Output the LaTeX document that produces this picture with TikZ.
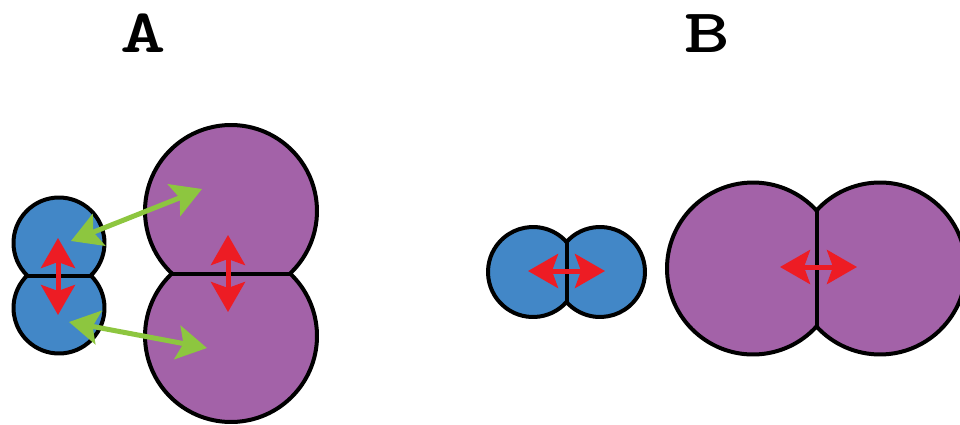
\documentclass[tikz,border=0pt]{standalone}
\usetikzlibrary{arrows.meta}
\definecolor{cellblue}{HTML}{4287C7}
\definecolor{cellpurple}{HTML}{A362A8}
\definecolor{arrred}{HTML}{ED1C24}
\definecolor{arrgreen}{HTML}{8DC63F}
\newcommand\cellpairV[5]{%
  \pgfmathsetmacro\hh{(#3-#2)/2}%
  \pgfmathsetmacro\th{asin(\hh/#4)}%
  \pgfmathsetmacro\hc{#4*cos(\th)}%
  \pgfmathsetmacro\ym{(#2+#3)/2}%
  \draw[#5] (#1-\hc,\ym) arc[start angle=180-\th, end angle=360+\th, radius=#4]
    arc[start angle=-\th, end angle=180+\th, radius=#4] -- cycle;
  \draw[cellline] (#1-\hc,\ym) -- (#1+\hc,\ym);
}
\newcommand\cellpairH[5]{%
  \pgfmathsetmacro\hh{(#2-#1)/2}%
  \pgfmathsetmacro\th{acos(\hh/#4)}%
  \pgfmathsetmacro\hc{#4*sin(\th)}%
  \pgfmathsetmacro\xm{(#1+#2)/2}%
  \draw[#5] (\xm,#3+\hc) arc[start angle=\th, end angle=360-\th, radius=#4]
    arc[start angle=180+\th, end angle=540-\th, radius=#4] -- cycle;
  \draw[cellline] (\xm,#3-\hc) -- (\xm,#3+\hc);
}
\newcommand\widelbl[1]{\scalebox{1.4}[1]{#1}}
\begin{document}
\begin{tikzpicture}[x=1pt,y=-1pt,
  cellline/.style={line width=4pt, line join=round},
  bluecell/.style={cellline, fill=cellblue},
  purplecell/.style={cellline, fill=cellpurple},
  dbl/.style={line width=5pt, {Stealth[length=30pt,width=34pt,inset=6pt]}-{Stealth[length=30pt,width=34pt,inset=6pt]}},
  redarrow/.style={dbl, draw=arrred},
  greenarrow/.style={dbl, draw=arrgreen},
  lbl/.style={font=\fontsize{62}{62}\selectfont\ttfamily\bfseries, inner sep=0pt}]
\path[use as bounding box] (0,0) rectangle (960,425);
\clip (0,0) rectangle (960,425);

% labels
\node[lbl] (labelA) at (143,33.5) {\widelbl{A}};
\node[lbl] (labelB) at (707,33.5) {\widelbl{B}};

% A: vertical pairs
\cellpairV{59}{243}{308}{45.5}{bluecell}
\cellpairV{231}{211}{336}{86}{purplecell}

% B: horizontal pairs
\cellpairH{533}{600}{272}{45}{bluecell}
\cellpairH{753}{880}{268.5}{86}{purplecell}

% arrow end points
\coordinate (abt) at (58,238);
\coordinate (abb) at (58,315);
\coordinate (apt) at (228,235);
\coordinate (apb) at (228,312);
\coordinate (g1a) at (71,241);
\coordinate (g1b) at (202,189);
\coordinate (g2a) at (69,322);
\coordinate (g2b) at (207,348);
\coordinate (bbl) at (528,271);
\coordinate (bbr) at (605,271);
\coordinate (bpl) at (780,267);
\coordinate (bpr) at (857,267);

% arrows
\draw[greenarrow] (g1a) -- (g1b);
\draw[greenarrow] (g2a) -- (g2b);
\draw[redarrow] (abt) -- (abb);
\draw[redarrow] (apt) -- (apb);
\draw[redarrow] (bbl) -- (bbr);
\draw[redarrow] (bpl) -- (bpr);
\end{tikzpicture}
\end{document}
